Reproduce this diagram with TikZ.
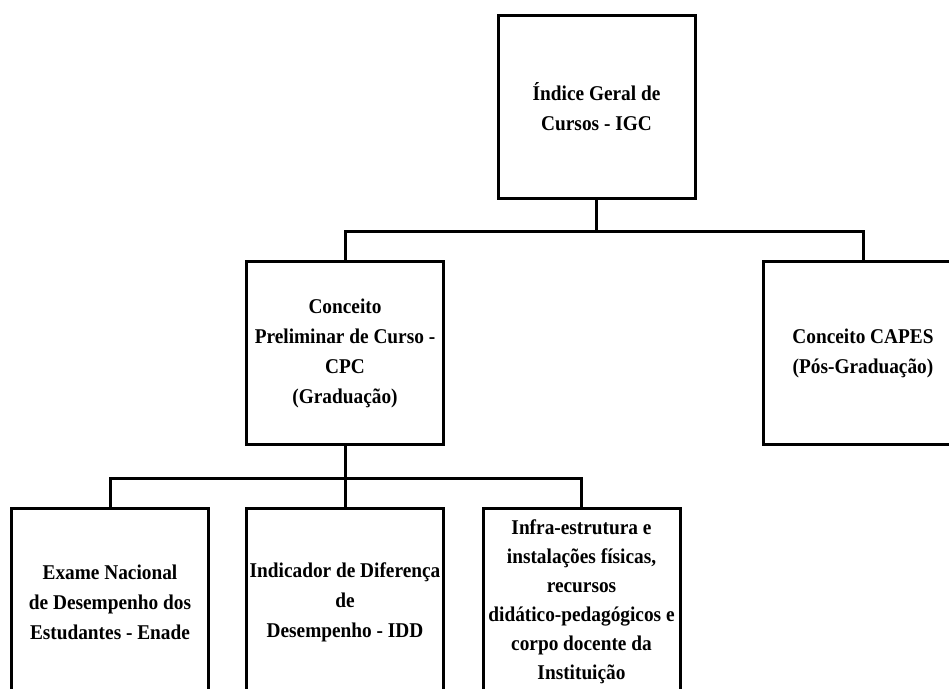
\documentclass[tikz,border=0pt]{standalone}
\usepackage{fontspec}
\setmainfont[FakeStretch=0.92]{Liberation Serif}

\begin{document}
\begin{tikzpicture}[x=1pt, y=1pt, line width=3pt,
    main/.style = {draw, rectangle, minimum width=197pt, minimum height=183pt, inner sep=0pt, align=center, font=\fontsize{21}{30}\selectfont\bfseries},
    low/.style = {main, minimum height=188pt}]
    \useasboundingbox (0,0) rectangle (949,-688);
    \clip (0,0) rectangle (949,-688);
    \node[main] (igc) at (596.5,-106.5) {Índice Geral de\\Cursos - IGC};
    \node[main] (cpc) at (345,-353) {Conceito\\Preliminar de Curso -\\CPC\\(Graduação)};
    \node[main, minimum width=200pt] (capes) at (863,-353) {Conceito CAPES\\(Pós-Graduação)};
    \node[low] (enade) at (110,-602) {Exame Nacional\\de Desempenho dos\\Estudantes - Enade};
    \node[low] (idd) at (345,-602) {Indicador de Diferença\\de\\Desempenho - IDD};
    \node[low, font=\fontsize{21}{29}\selectfont\bfseries] (infra) at (581.5,-602) {Infra-estrutura e\\instalações físicas,\\recursos\\didático-pedagógicos e\\corpo docente da\\Instituição};
    \draw (igc.south) -- ++(0,-32) -| (cpc.north);
    \draw (igc.south) -- ++(0,-32) -| (capes.north);
    \draw (cpc.south) -- ++(0,-32) -| (enade.north);
    \draw (cpc.south) -- (idd.north);
    \draw (cpc.south) -- ++(0,-32) -| (infra.north);
\end{tikzpicture}
\end{document}
